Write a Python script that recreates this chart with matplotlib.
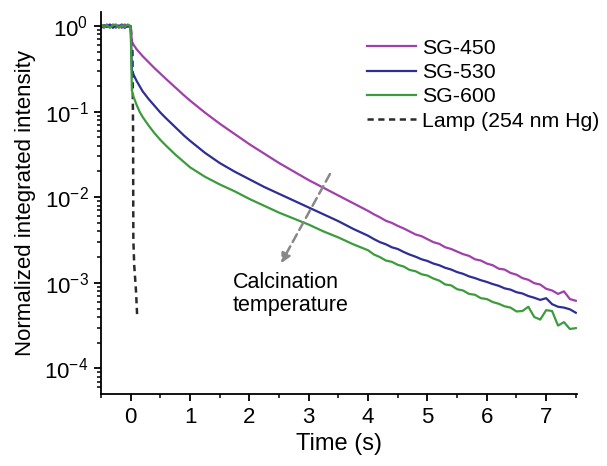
import numpy as np
import matplotlib.pyplot as plt
from matplotlib.ticker import LogLocator, MultipleLocator, NullFormatter

plt.rcParams['font.family'] = ['Liberation Sans', 'DejaVu Sans']
plt.rcParams['mathtext.fontset'] = 'custom'
plt.rcParams['mathtext.rm'] = 'Liberation Sans'

# Tijdas (s)
t = [-0.5, -0.45, -0.4, -0.35, -0.3, -0.25, -0.2, -0.15, -0.1, -0.05, 0.0,
     0.02, 0.05, 0.1, 0.15, 0.2, 0.3, 0.4, 0.5, 0.6, 0.75, 0.9, 1.0, 1.25,
     1.5, 1.75, 2.0, 2.25, 2.5, 2.75, 3.0, 3.25, 3.5, 3.75,
     4.0, 4.1, 4.2, 4.3, 4.4, 4.5, 4.6, 4.7, 4.8, 4.9, 5.0, 5.1, 5.2, 5.3,
     5.4, 5.5, 5.6, 5.7, 5.8, 5.9, 6.0, 6.1, 6.2, 6.3, 6.4, 6.5, 6.6, 6.7,
     6.8, 6.9, 7.0, 7.1, 7.2, 7.3, 7.4, 7.5]

# log10 van genormaliseerde intensiteit
sg450 = [0.01, -0.02, 0.02, -0.01, 0.02, -0.02, 0.01, -0.02, 0.02, -0.01, 0.0,
         -0.18, -0.22, -0.27, -0.31, -0.35, -0.42, -0.49, -0.555, -0.62, -0.715,
         -0.81, -0.87, -1.01, -1.14, -1.26, -1.38, -1.49, -1.60, -1.70, -1.80,
         -1.89, -1.98, -2.07,
         -2.16, -2.20, -2.235, -2.275, -2.30, -2.335, -2.365, -2.40, -2.435,
         -2.455, -2.49, -2.525, -2.545, -2.585, -2.605, -2.635, -2.665, -2.685,
         -2.725, -2.74, -2.775, -2.795, -2.835, -2.845, -2.885, -2.905, -2.945,
         -2.965, -3.005, -3.02, -3.07, -3.09, -3.13, -3.10, -3.19, -3.21]
sg530 = [-0.02, 0.01, -0.01, 0.02, -0.02, 0.01, -0.01, 0.02, -0.02, 0.01, 0.0,
         -0.51, -0.57, -0.64, -0.70, -0.76, -0.85, -0.93, -1.01, -1.08, -1.18,
         -1.28, -1.34, -1.48, -1.60, -1.70, -1.79, -1.88, -1.96, -2.04, -2.12,
         -2.20, -2.28, -2.37,
         -2.45, -2.49, -2.525, -2.55, -2.585, -2.605, -2.64, -2.67, -2.695,
         -2.725, -2.745, -2.775, -2.795, -2.825, -2.845, -2.875, -2.895, -2.925,
         -2.945, -2.97, -2.99, -3.015, -3.035, -3.065, -3.08, -3.11, -3.125,
         -3.155, -3.175, -3.20, -3.18, -3.25, -3.28, -3.29, -3.31, -3.35]
sg600 = [0.02, -0.01, 0.01, -0.02, 0.01, 0.02, -0.02, 0.01, -0.01, 0.02, 0.0,
         -0.75, -0.83, -0.92, -1.00, -1.06, -1.16, -1.25, -1.33, -1.40, -1.50,
         -1.59, -1.65, -1.76, -1.85, -1.93, -2.02, -2.10, -2.18, -2.25, -2.32,
         -2.40, -2.47, -2.55,
         -2.62, -2.67, -2.70, -2.74, -2.755, -2.79, -2.81, -2.85, -2.865, -2.90,
         -2.915, -2.95, -2.975, -3.02, -3.03, -3.075, -3.09, -3.13, -3.14,
         -3.18, -3.19, -3.225, -3.245, -3.275, -3.29, -3.335, -3.33, -3.28,
         -3.40, -3.43, -3.32, -3.33, -3.50, -3.46, -3.54, -3.53]

t_lamp = [-0.5, -0.3, -0.1, 0.0, 0.03, 0.04, 0.045, 0.06, 0.09, 0.11]
lamp = [0.0, 0.01, -0.01, 0.0, -0.3, -1.2, -2.5, -2.8, -3.1, -3.4]

labels = ['SG-450', 'SG-530', 'SG-600', 'Lamp (254 nm Hg)']

fig = plt.figure(figsize=(6.07, 4.66), dpi=100)
ax = fig.add_axes([0.1664, 0.1545, 0.7842, 0.8195])

ax.plot(t_lamp, 10 ** np.array(lamp), '--', color='#2b2b2b', lw=1.8,
        dashes=(2.5, 1.8), label=labels[3], zorder=1)
ax.plot(t, 10 ** np.array(sg450), color='#a040aa', lw=1.6, label=labels[0])
ax.plot(t, 10 ** np.array(sg530), color='#2e2e96', lw=1.6, label=labels[1])
ax.plot(t, 10 ** np.array(sg600), color='#3c9c3c', lw=1.6, label=labels[2])

ax.set_yscale('log')
ax.set_xlim(-0.5, 7.52)
ax.set_ylim(10 ** -4.3, 10 ** 0.164)

ax.xaxis.set_major_locator(MultipleLocator(1))
ax.xaxis.set_minor_locator(MultipleLocator(0.5))
ax.yaxis.set_major_locator(LogLocator(base=10, numticks=10))
ax.yaxis.set_minor_locator(LogLocator(base=10, subs=np.arange(2, 10), numticks=10))
ax.yaxis.set_minor_formatter(NullFormatter())

for s in ['top', 'right']:
    ax.spines[s].set_visible(False)
for s in ['left', 'bottom']:
    ax.spines[s].set_linewidth(1.3)

ax.tick_params(which='major', direction='out', length=5, width=1.3, labelsize=16, pad=4)
ax.tick_params(which='minor', direction='out', length=3, width=1.1)

ax.set_xlabel('Time (s)', fontsize=17)
ax.set_ylabel('Normalized integrated intensity', fontsize=16, labelpad=6)

# pijl en tekst
ax.annotate('', xy=(2.51, 10 ** -2.80), xytext=(3.38, 10 ** -1.70),
            arrowprops=dict(arrowstyle='-|>', color='#888888', lw=1.8,
                            linestyle=(0, (3.5, 2)), mutation_scale=14))
ax.text(1.72, 10 ** -3.13, 'Calcination\ntemperature', fontsize=15.5,
        va='center', ha='left', linespacing=1.15)

h, l = ax.get_legend_handles_labels()
order = [1, 2, 3, 0]
ax.legend([h[i] for i in order], [l[i] for i in order], loc='upper left',
          bbox_to_anchor=(0.591, 0.935), bbox_transform=fig.transFigure,
          frameon=False, fontsize=15.3, handlelength=2.3, handletextpad=0.3,
          labelspacing=0.25, borderaxespad=0)

fig.savefig('out.png', dpi=100)
